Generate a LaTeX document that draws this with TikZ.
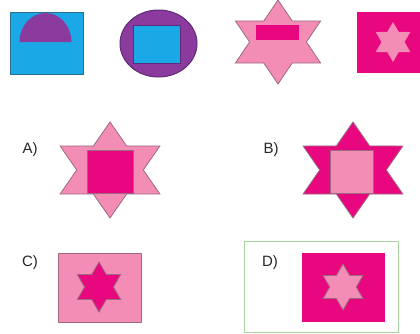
\documentclass[tikz,border=0pt]{standalone}
\usepackage{fontspec}
\setmainfont{Liberation Sans}
\usetikzlibrary{shapes.geometric}
\definecolor{skyblue}{HTML}{1BA8E6}
\definecolor{tealedge}{HTML}{2A6F8E}
\definecolor{violet}{HTML}{8B3A9E}
\definecolor{violetedge}{HTML}{5E2C78}
\definecolor{magenta}{HTML}{E8077F}
\definecolor{rosepink}{HTML}{F48DB5}
\definecolor{staredge}{HTML}{9A6A80}
\definecolor{boxgreen}{HTML}{A8D4A0}

\begin{document}
\begin{tikzpicture}[x=1pt,y=-1pt,
  hexstar/.style={star,star points=6,star point ratio=1.73,inner sep=0pt,draw=staredge,line width=0.8pt},
  optlabel/.style={font=\fontsize{15}{17}\selectfont,text=black!85}]
  \useasboundingbox (0,0) rectangle (420,333);
  % top row
  \draw[fill=skyblue,draw=tealedge,line width=1pt] (10,12) rectangle (83,74);
  \fill[violet] (19.5,42) arc[start angle=180,end angle=360,x radius=26,y radius=29] -- cycle;
  \draw[fill=violet,draw=violetedge,line width=1pt] (158.5,43.5) ellipse (38.5 and 33.5);
  \draw[fill=skyblue,draw=violetedge] (133,25) rectangle (180,63);
  \node[hexstar,fill=rosepink,minimum size=84pt,xscale=1.17] (topstar) at (278,42) {};
  \fill[magenta] (256,25) rectangle (299,40);
  \fill[magenta] (357,12) rectangle (420,73);
  \node[hexstar,fill=rosepink,draw=none,minimum size=40pt] (topsmall) at (393,42) {};
  % options A and B
  \node[optlabel] (la) at (30,150) {A)};
  \node[hexstar,fill=rosepink,minimum size=96pt,xscale=1.2] (stara) at (110,170) {};
  \draw[fill=magenta,draw=staredge] (87,150) rectangle (133,193);
  \node[optlabel] (lb) at (271,150) {B)};
  \node[hexstar,fill=magenta,minimum size=96pt,xscale=1.2] (starb) at (353,170) {};
  \draw[fill=rosepink,draw=staredge] (330,150) rectangle (373,193);
  % options C and D
  \node[optlabel] (lc) at (30,263) {C)};
  \draw[fill=rosepink,draw=staredge] (58,253) rectangle (141,322);
  \node[hexstar,fill=magenta,minimum size=50pt] (starc) at (99,287) {};
  \draw[boxgreen,line width=1pt] (244,241) rectangle (398,332);
  \node[optlabel] (ld) at (270,263) {D)};
  \fill[magenta] (302,253) rectangle (385,322);
  \node[hexstar,fill=rosepink,minimum size=46pt] (stard) at (343,287) {};
\end{tikzpicture}
\end{document}
